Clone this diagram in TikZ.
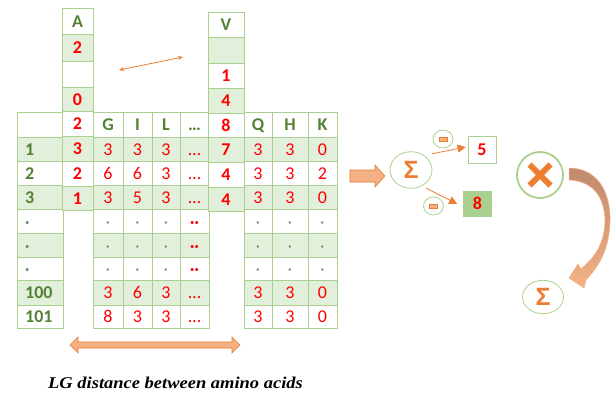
\documentclass[tikz,border=0pt]{standalone}
\usepackage{fontspec}
\setmainfont{Carlito}
\newfontfamily\capfont{Liberation Serif}
\newfontfamily\symfont{Liberation Sans}
\usetikzlibrary{arrows.meta,calc,shapes.geometric}

\definecolor{tgreen}{HTML}{A9D08E}
\definecolor{gfill}{HTML}{E2EFDA}
\definecolor{hgreen}{HTML}{548235}
\definecolor{vred}{HTML}{FF0000}
\definecolor{dotc}{HTML}{6E8A5A}
\definecolor{aorange}{HTML}{ED7D31}
\definecolor{lorange}{HTML}{F4B183}
\definecolor{cbrown}{HTML}{C08A70}

% cell contents
\newcommand\nv[1]{\textcolor{vred}{#1}}
\newcommand\bv[1]{\textcolor{vred}{\bfseries #1}}
\newcommand\hd[1]{\textcolor{hgreen}{\bfseries #1}}
\newcommand\el{\textcolor{vred}{…}}
\newcommand\dd{\textcolor{vred}{\fontsize{16}{16}\selectfont\bfseries··}}
\newcommand\dt{\textcolor{dotc}{\fontsize{16}{16}\selectfont·}}
\newcommand\sig{\textcolor{aorange}{\symfont\fontsize{25}{25}\selectfont\bfseries Σ}}

% one table cell: name, x1, y1, x2, y2, fill, content
\newcommand\cel[7]{%
  \node[cellst,fill=#6,minimum width={(#4-#2)*1pt},minimum height={(#5-#3)*1pt}]
    (#1) at ({(#2+#4)/2},{(#3+#5)/2}) {#7};}

\tikzset{
  cellst/.style={draw=tgreen,line width=0.7pt,inner sep=0pt,
    text height=12.6pt,text depth=0pt,font=\fontsize{18}{20}\selectfont},
  lbl/.style={inner sep=0pt,text height=12.6pt,text depth=0pt,
    font=\fontsize{18}{20}\selectfont},
  hdrline/.style={draw=tgreen,line width=1.6pt},
  thinarr/.style={draw=aorange,line width=0.8pt,
    {Stealth[length=5pt,width=4pt]}-{Stealth[length=5pt,width=4pt]}},
  minarr/.style={draw=aorange,line width=0.8pt,
    -{Triangle[length=8pt,width=8pt]}},
  barrow/.style={fill=lorange,draw=aorange,line width=0.6pt,line join=miter},
  sigc/.style={ellipse,draw=tgreen,line width=0.8pt,inner sep=0pt},
  minc/.style={ellipse,draw=tgreen,line width=0.8pt,inner sep=0pt,
    minimum width=20pt,minimum height=18pt},
  minbar/.style={rectangle,fill=lorange,draw=aorange,line width=0.4pt,
    inner sep=0pt,minimum width=8pt,minimum height=4pt},
  resbox/.style={rectangle,inner sep=0pt,font=\fontsize{18}{20}\selectfont},
}

\begin{document}
\begin{tikzpicture}[x=1pt,y=-1pt]
\useasboundingbox (0,0) rectangle (616,396);

% header row of the distance table
\cel{h0}{17}{112}{63}{137}{white}{}
\cel{hg}{93}{112}{123}{137}{white}{\hd{G}}
\cel{hi}{123}{112}{152}{137}{white}{\hd{I}}
\cel{hl}{152}{112}{180}{137}{white}{\hd{L}}
\cel{he}{180}{112}{209}{137}{white}{\hd{…}}
\cel{hq}{244}{112}{272}{137}{white}{\hd{Q}}
\cel{hh}{272}{112}{308}{137}{white}{\hd{H}}
\cel{hk}{308}{112}{337}{137}{white}{\hd{K}}
\draw[hdrline] (h0.south west) -- (h0.south east);
\draw[hdrline] (hg.south west) -- (he.south east);
\draw[hdrline] (hq.south west) -- (hk.south east);

% body rows
\foreach \n/\ya/\yb/\f/\lab/\g/\i/\l/\e/\q/\h/\k in {
  1/137/161/gfill/1/3/3/3/\el/3/3/0,
  2/161/185/white/2/6/6/3/\el/3/3/2,
  3/185/209/gfill/3/3/5/3/\el/3/3/0,
  4/209/233/white/\dt/\dt/\dt/\dt/\dd/\dt/\dt/\dt,
  5/233/257/gfill/\dt/\dt/\dt/\dt/\dd/\dt/\dt/\dt,
  6/257/280/white/\dt/\dt/\dt/\dt/\dd/\dt/\dt/\dt,
  7/280/305/gfill/100/3/6/3/\el/3/3/0,
  8/305/328/white/101/8/3/3/\el/3/3/0}{
  \cel{l\n}{17}{\ya}{63}{\yb}{\f}{}
  \node[lbl,anchor=west] (lt\n) at (25,{(\ya+\yb)/2}) {\hd{\lab}};
  \cel{g\n}{93}{\ya}{123}{\yb}{\f}{\nv{\g}}
  \cel{i\n}{123}{\ya}{152}{\yb}{\f}{\nv{\i}}
  \cel{c\n}{152}{\ya}{180}{\yb}{\f}{\nv{\l}}
  \cel{e\n}{180}{\ya}{209}{\yb}{\f}{\e}
  \cel{q\n}{244}{\ya}{272}{\yb}{\f}{\nv{\q}}
  \cel{hh\n}{272}{\ya}{308}{\yb}{\f}{\nv{\h}}
  \cel{k\n}{308}{\ya}{337}{\yb}{\f}{\nv{\k}}
}

% column A
\cel{ah}{62}{8}{93}{34}{white}{\hd{A}}
\foreach \n/\ya/\yb/\f/\v in {1/34/61/gfill/2,2/61/87/white/{},3/87/111/gfill/0,
  4/111/136/white/2,5/136/161/gfill/3,6/161/186/white/2,7/186/210/gfill/1}{
  \cel{a\n}{62}{\ya}{93}{\yb}{\f}{\bv{\v}}
}
\draw[hdrline] (ah.south west) -- (ah.south east);

% column V
\cel{vh}{208}{12}{244}{37}{white}{\hd{V}}
\foreach \n/\ya/\yb/\f/\v in {1/37/63/gfill/{},2/63/88/white/1,3/88/113/gfill/4,
  4/113/137/white/8,5/137/162/gfill/7,6/162/187/white/4,7/187/211/gfill/4}{
  \cel{v\n}{208}{\ya}{244}{\yb}{\f}{\bv{\v}}
}
\draw[hdrline] (vh.south west) -- (vh.south east);

% thin double arrow between the two columns
\coordinate (ta) at (119,70);
\coordinate (tb) at (183,57);
\draw[thinarr] (ta) -- (tb);

% wide double arrow under the table
\draw[barrow] (70,345) -- (78,337) -- (78,342) -- (232,342) -- (232,337)
  -- (240,345) -- (232,353) -- (232,348) -- (78,348) -- (78,353) -- cycle;

% block arrow into the sum
\draw[barrow] (350,170) -- (375,170) -- (375,165) -- (385,176) -- (375,187)
  -- (375,182) -- (350,182) -- cycle;

% sum and its two differences
\node[sigc,minimum width=42pt,minimum height=36.6pt] (s1) at (411,170) {\sig};
\node[resbox,fill=white,draw=tgreen,line width=0.7pt,
  minimum width=28pt,minimum height=26.6pt] (b5) at (482,150) {\bv{5}};
\draw[tgreen,line width=1.6pt] (b5.south west) -- (b5.south east);
\node[resbox,fill=tgreen,minimum width=28.4pt,minimum height=25.7pt]
  (b8) at (477.5,203.8) {\bv{8}};

\node[minc] (m1) at (443,139) {};
\node[minbar] (m1b) at (m1) {};
\node[minc] (m2) at (433.5,206) {};
\node[minbar] (m2b) at (m2) {};

\draw[minarr] ([xshift=6pt,yshift=3pt]s1.north east) -- ([yshift=3pt,xshift=-2pt]b5.west);
\draw[minarr] ([yshift=-5pt]s1.south east) -- ([xshift=-6pt]b8.west);

% product and final sum
\node[circle,draw=tgreen,line width=1.8pt,minimum size=46pt,inner sep=0pt]
  (xc) at (540,175) {};
\draw[aorange,line width=6pt] ($(xc)+(-10.5,-10.5)$) -- ($(xc)+(10.5,10.5)$);
\draw[aorange,line width=6pt] ($(xc)+(-10.5,10.5)$) -- ($(xc)+(10.5,-10.5)$);

\node[sigc,minimum width=41pt,minimum height=33.4pt] (s2) at (543,297) {\sig};

% curved arrow from the product down to the final sum
\shade[top color=cbrown,bottom color=lorange,draw=lorange,line width=0.5pt]
  (569,168) .. controls (596,168) and (611,190) .. (610,222)
  .. controls (609,250) and (599,266) .. (586,280)
  -- (584,288) -- (569,278) -- (578,264) -- (581,269)
  .. controls (595,257) and (604,244) .. (605,222)
  .. controls (605,196) and (592,181) .. (569,180) -- cycle;

% caption
\node[anchor=base west,inner sep=0pt,
  font=\capfont\bfseries\itshape\fontsize{16.5}{18}\selectfont]
  (cap) at (48,388) {\scalebox{1.12}[1]{LG distance between amino acids}};
\end{tikzpicture}
\end{document}
